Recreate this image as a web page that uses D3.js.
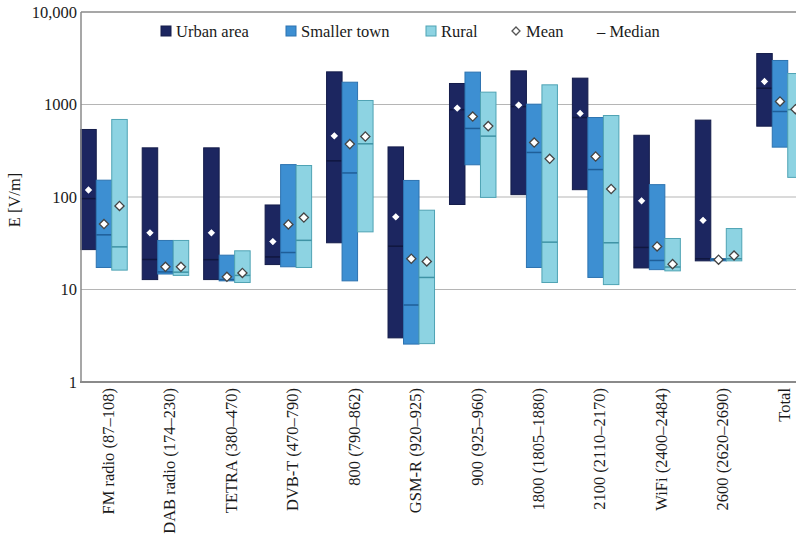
<!DOCTYPE html>
<html><head><meta charset="utf-8">
<script src="https://cdn.jsdelivr.net/npm/d3@7"></script>
<style>body{margin:0;background:#fff}svg{display:block}</style>
</head><body><svg id="c" width="796" height="559" font-family="'Liberation Serif', 'Times New Roman', 'DejaVu Serif', serif"></svg>
<script>
const categories = ["FM radio (87–108)","DAB radio (174–230)","TETRA (380–470)","DVB-T (470–790)","800 (790–862)","GSM-R (920–925)","900 (925–960)","1800 (1805–1880)","2100 (2110–2170)","WiFi (2400–2484)","2600 (2620–2690)","Total"];
const series = ["Urban area","Smaller town","Rural"];
// min, max, mean, median per category
const urbanMin    = [27, 12.8, 12.8, 18.6, 32, 3.0, 83, 106, 120, 17.1, 20.4, 583];
const urbanMax    = [537, 340, 340, 82, 2254, 348, 1687, 2311, 1927, 465, 678, 3556];
const urbanMean   = [119, 41, 41, 33, 458, 61, 913, 984, 800, 91, 56, 1773];
const urbanMedian = [96, 21.1, 21, 22.5, 246, 29.4, 880, 950, 723, 28.5, 21.5, 1500];
const townMin     = [17.3, 14.7, 12.4, 17.6, 12.4, 2.57, 223, 17.3, 13.5, 16.4, 20.4, 346];
const townMax     = [152, 33.9, 23.5, 224, 1742, 151, 2239, 1008, 723, 136, 21.6, 2992];
const townMean    = [51, 17.6, 13.7, 50.5, 373, 21.5, 741, 388, 274, 29.2, 21, 1078];
const townMedian  = [39, 15.5, 12.8, 25.1, 182, 6.8, 551, 303, 198, 20.6, 21, 840];
const ruralMin    = [16.2, 14.2, 11.9, 17.3, 42, 2.6, 99, 11.9, 11.3, 15.9, 20.4, 163];
const ruralMax    = [689, 33.9, 26.2, 219, 1105, 72, 1360, 1632, 760, 35.6, 45.6, 2162];
const ruralMean   = [80, 17.6, 15.1, 60, 451, 20.1, 584, 259, 122, 18.8, 23.3, 890];
const ruralMedian = [28.9, 15.4, 14.2, 34, 376, 13.5, 455, 32.5, 32, 17.5, 21.5, 880];
const yTicks = [1, 10, 100, 1000, 10000];
const yTickLabels = ["1", "10", "100", "1000", "10,000"];
const yTitle = "E [V/m]";

const fills   = ["#1c2660", "#3d8fd2", "#8dd3e2"];
const strokes = ["#141c4a", "#2d73b0", "#4fa3b4"];
const medCol  = ["#10173f", "#1f5e98", "#3f93a5"];
const diaStroke = ["#1c2660", "#444", "#444"];
const textCol = "#1a1a1a";

const data = categories.map((c,i)=>({cat:c, vals:[
  {s:0,min:urbanMin[i],max:urbanMax[i],mean:urbanMean[i],med:urbanMedian[i]},
  {s:1,min:townMin[i],max:townMax[i],mean:townMean[i],med:townMedian[i]},
  {s:2,min:ruralMin[i],max:ruralMax[i],mean:ruralMean[i],med:ruralMedian[i]}]}));

const svg = d3.select("#c");
const L = 81, R = 830, T = 12, B = 382;
const y = d3.scaleLog().domain([1,10000]).range([B,T]);
const x = d3.scalePoint().domain(categories).range([104, 780]);
const xs = d3.scaleBand().domain([0,1,2]).range([-23.25, 23.25]);

// grid
svg.append("g").selectAll("line").data(yTicks.slice(1,4)).join("line")
  .attr("x1",L).attr("x2",R).attr("y1",d=>y(d)).attr("y2",d=>y(d))
  .attr("stroke","#b5b5b5").attr("stroke-width",1);
svg.append("line").attr("x1",L).attr("x2",R).attr("y1",y(10000)).attr("y2",y(10000)).attr("stroke","#8a8a8a").attr("stroke-width",1.5);

// bars
const g = svg.append("g").selectAll("g").data(data).join("g")
  .attr("transform",d=>`translate(${x(d.cat)},0)`);
const b = g.selectAll("g").data(d=>d.vals).join("g");
b.append("rect")
  .attr("x",d=>xs(d.s)).attr("width",xs.bandwidth())
  .attr("y",d=>y(d.max)).attr("height",d=>y(d.min)-y(d.max))
  .attr("fill",d=>fills[d.s]).attr("stroke",d=>strokes[d.s]).attr("stroke-width",1);
b.append("line")
  .attr("x1",d=>xs(d.s)).attr("x2",d=>xs(d.s)+xs.bandwidth())
  .attr("y1",d=>y(d.med)).attr("y2",d=>y(d.med))
  .attr("stroke",d=>medCol[d.s]).attr("stroke-width",1.5);
const dia = (r)=>`M0,${-r}L${r},0L0,${r}L${-r},0Z`;
b.append("path")
  .attr("d",dia(4.6))
  .attr("transform",d=>`translate(${xs(d.s)+xs.bandwidth()/2},${y(d.mean)})`)
  .attr("fill","#fff").attr("stroke",d=>diaStroke[d.s]).attr("stroke-width",1.3);

// axes lines
svg.append("line").attr("x1",L).attr("x2",L).attr("y1",T).attr("y2",B).attr("stroke","#8a8a8a").attr("stroke-width",1.5);
svg.append("line").attr("x1",L-1).attr("x2",R).attr("y1",B).attr("y2",B).attr("stroke","#8a8a8a").attr("stroke-width",2);

// y tick labels
svg.append("g").selectAll("text").data(yTicks).join("text")
  .attr("x",L-4).attr("y",d=>y(d)).attr("dy","0.35em").attr("text-anchor","end")
  .attr("font-size",16.5).attr("fill",textCol).text((d,i)=>yTickLabels[i]);
svg.append("text").attr("transform",`translate(20,${y(100)+3}) rotate(-90)`)
  .attr("text-anchor","middle").attr("font-size",16.5).attr("fill",textCol).text(yTitle);

// x labels
svg.append("g").selectAll("text").data(categories).join("text")
  .attr("transform",d=>`translate(${x(d)+4},${B+6}) rotate(-90)`)
  .attr("text-anchor","end").attr("dy","0.35em").attr("font-size",16.5).attr("fill",textCol).text(d=>d);

// legend
const lg = svg.append("g");
const legX = [161, 286, 426];
series.forEach((s,i)=>{
  lg.append("rect").attr("x",legX[i]).attr("y",26).attr("width",10).attr("height",10)
    .attr("fill",fills[i]).attr("stroke",strokes[i]);
  lg.append("text").attr("x",legX[i]+15).attr("y",31).attr("dy","0.35em").attr("font-size",16.5).attr("fill",textCol).text(s);
});
lg.append("path").attr("d",dia(4)).attr("transform","translate(516,31)").attr("fill","#fff").attr("stroke","#555").attr("stroke-width",1.3);
lg.append("text").attr("x",526).attr("y",31).attr("dy","0.35em").attr("font-size",16.5).attr("fill",textCol).text("Mean");
lg.append("text").attr("x",597).attr("y",31).attr("dy","0.35em").attr("font-size",16.5).attr("fill",textCol).text("– Median");
</script></body></html>
